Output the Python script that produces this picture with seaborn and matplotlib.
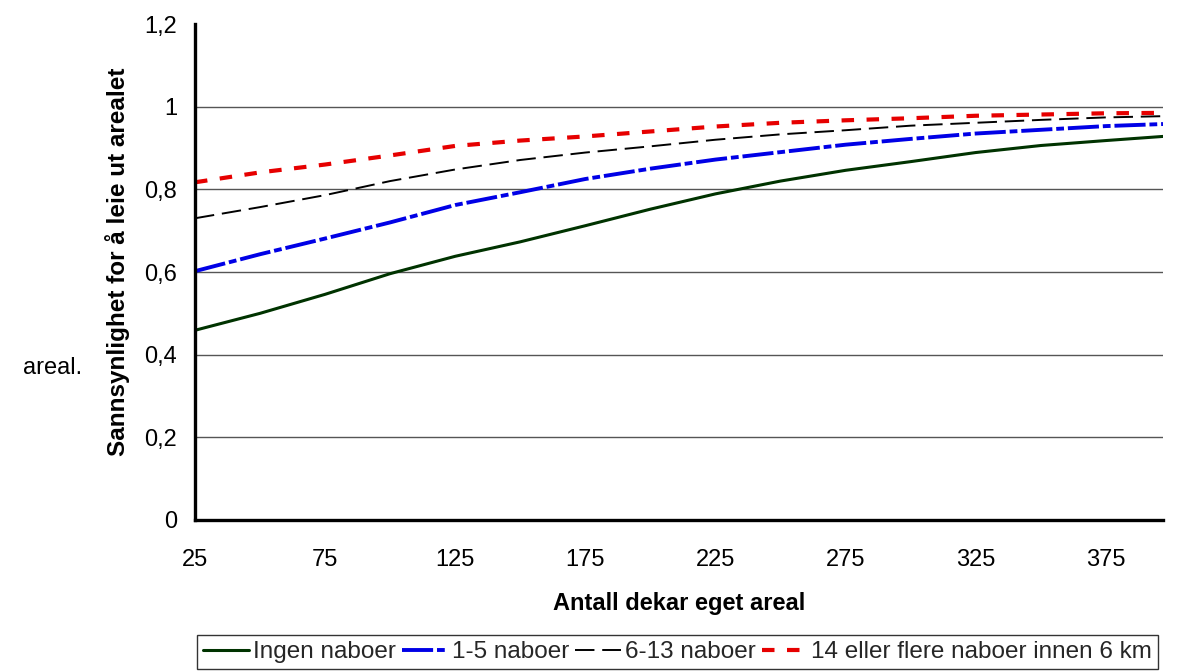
import matplotlib
matplotlib.use("Agg")
import matplotlib.pyplot as plt
import seaborn as sns
import pandas as pd

# Owned area in dekar (x) and probability of renting out land for each neighbour group
dekar = [25, 50, 75, 100, 125, 150, 175, 200, 225, 250, 275, 300, 325, 350, 375, 397]

ingen_naboer = [0.459, 0.500, 0.546, 0.596, 0.638, 0.673, 0.712, 0.752, 0.789, 0.820,
                0.846, 0.867, 0.889, 0.906, 0.918, 0.928]
naboer_1_5 = [0.602, 0.643, 0.681, 0.720, 0.762, 0.793, 0.825, 0.850, 0.872, 0.890,
              0.908, 0.922, 0.935, 0.944, 0.953, 0.958]
naboer_6_13 = [0.730, 0.757, 0.786, 0.820, 0.848, 0.871, 0.889, 0.904, 0.920, 0.933,
               0.943, 0.954, 0.961, 0.968, 0.974, 0.977]
naboer_14 = [0.817, 0.841, 0.860, 0.882, 0.905, 0.918, 0.928, 0.940, 0.952, 0.961,
             0.967, 0.972, 0.978, 0.981, 0.984, 0.985]

series_names = ["Ingen naboer", "1-5 naboer", "6-13 naboer",
                "14 eller flere naboer innen 6 km"]
series_values = [ingen_naboer, naboer_1_5, naboer_6_13, naboer_14]

x_ticks = [25, 75, 125, 175, 225, 275, 325, 375]
y_ticks = [0, 0.2, 0.4, 0.6, 0.8, 1.0, 1.2]
y_tick_labels = ["0", "0,2", "0,4", "0,6", "0,8", "1", "1,2"]

df = pd.DataFrame({
    "dekar": dekar * len(series_names),
    "verdi": sum(series_values, []),
    "gruppe": [n for n in series_names for _ in dekar],
})

sns.set_theme(style="white")
plt.rcParams["font.family"] = ["Liberation Sans", "DejaVu Sans"]

fig = plt.figure(figsize=(11.89, 6.71), dpi=100)
W, H = 1189, 671
ax = fig.add_axes([195 / W, 1 - 520 / H, (1163 - 195) / W, (520 - 24) / H])

styles = {
    "Ingen naboer": dict(color="#003300", lw=2.2, dashes=None),
    "1-5 naboer": dict(color="#0000e6", lw=2.8, dashes=(8, 1, 2, 1)),
    "6-13 naboer": dict(color="black", lw=1.4, dashes=(10, 4)),
    "14 eller flere naboer innen 6 km": dict(color="#e60000", lw=3.0, dashes=(3, 3)),
}

for name in series_names:
    st = styles[name]
    sub = df[df["gruppe"] == name]
    sns.lineplot(data=sub, x="dekar", y="verdi", ax=ax, color=st["color"],
                 linewidth=st["lw"], label=name, zorder=3)
    line = ax.lines[-1]
    if st["dashes"] is not None:
        line.set_dashes(st["dashes"])
        line.set_dash_capstyle("butt")

ax.set_xlim(25, 397)
ax.set_ylim(0, 1.2)
ax.set_xticks(x_ticks)
ax.set_xticklabels([str(t) for t in x_ticks])
ax.set_yticks(y_ticks)
ax.set_yticklabels(y_tick_labels)

# horizontal gridlines
for yv in y_ticks[1:-1]:
    ax.axhline(yv, color="#555555", lw=1.0, zorder=1)

for side in ["top", "right"]:
    ax.spines[side].set_visible(False)
for side in ["left", "bottom"]:
    ax.spines[side].set_color("black")
    ax.spines[side].set_linewidth(2.4)
    ax.spines[side].set_zorder(4)

ax.tick_params(axis="both", which="major", direction="out", length=7, width=2.0,
               color="black", labelsize=17, labelcolor="black", pad=6)
ax.tick_params(axis="x", pad=14)

ax.set_xlabel("Antall dekar eget areal", fontsize=17, fontweight="bold",
              labelpad=15, color="black")
ax.set_ylabel("")

fig.text(118 / W, 1 - 456 / H, "Sannsynlighet for å leie ut arealet", rotation=90,
         ha="center", va="bottom", fontsize=17.5, fontweight="bold", color="black")
fig.text(23 / W, 1 - 368 / H, "areal.", ha="left", va="center", fontsize=17,
         color="black")

ax.get_legend().remove()
handles = ax.lines[:4]
leg = fig.legend(handles, series_names, loc="upper left",
                 bbox_to_anchor=(197 / W, 1 - 635 / H), ncol=4, frameon=True,
                 fancybox=False, edgecolor="black", fontsize=17.5,
                 handlelength=1.9, handletextpad=0.15, columnspacing=0.25,
                 borderpad=0.25, borderaxespad=0)
leg.get_frame().set_linewidth(1.0)

fig.savefig("out.png", dpi=100)
